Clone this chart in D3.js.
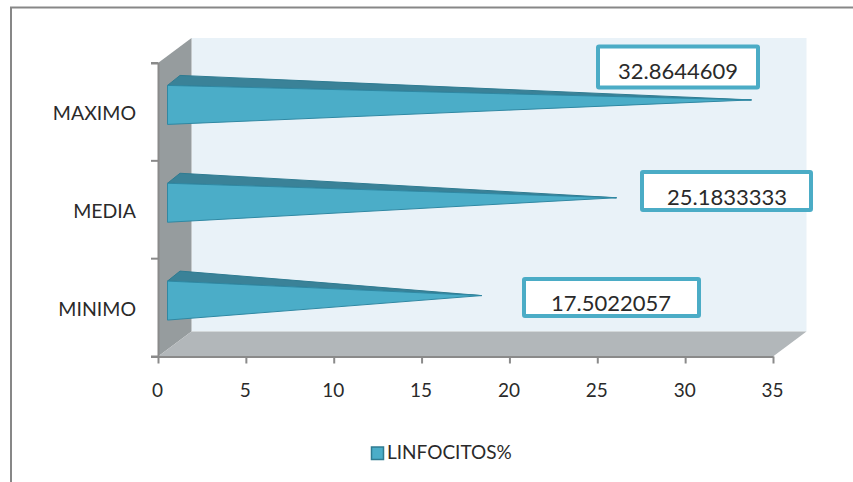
<!DOCTYPE html>
<html>
<head>
<meta charset="utf-8">
<script src="https://cdn.jsdelivr.net/npm/d3@7/dist/d3.min.js"></script>
<style>
html,body{margin:0;padding:0;background:#fff;}
svg{display:block;}
text{font-family:Lato,"Open Sans",sans-serif;fill:#2a2a2a;}
</style>
</head>
<body>
<svg id="chart" width="853" height="482"></svg>
<script>
const categories = ["MAXIMO", "MEDIA", "MINIMO"];
const values = [32.8644609, 25.1833333, 17.5022057];
const valueLabels = ["32.8644609", "25.1833333", "17.5022057"];
const xTicks = [0, 5, 10, 15, 20, 25, 30, 35];
const seriesName = "LINFOCITOS%";

const svg = d3.select("#chart");
const x = d3.scaleLinear().domain([0, 35]).range([158, 773]);
const y = d3.scaleBand().domain(categories).range([63, 356.5]);
const depthX = 33.5, depthY = -25;
const [left, right] = x.range();
const [top_, bottom] = y.range();
const poly = pts => pts.map(p => p.join(",")).join(" ");

// Outer chart frame, open on the right and bottom edges
svg.append("path")
  .attr("d", "M11,482V7.5H853")
  .attr("fill", "none").attr("stroke", "#878787").attr("stroke-width", 2);

// Walls and floor of the 3D box
svg.append("polygon")
  .attr("points", poly([[left + depthX, top_ + depthY], [right + depthX, top_ + depthY],
                        [right + depthX, bottom + depthY], [left + depthX, bottom + depthY]]))
  .attr("fill", "#e9f2f8");
svg.append("polygon")
  .attr("points", poly([[left, top_], [left + depthX, top_ + depthY],
                        [left + depthX, bottom + depthY], [left, bottom]]))
  .attr("fill", "#969c9e");
svg.append("polygon")
  .attr("points", poly([[left, bottom], [left + depthX, bottom + depthY],
                        [right + depthX, bottom + depthY], [right, bottom]]))
  .attr("fill", "#b2b7ba");

// Axes
const xAxis = svg.append("g").attr("transform", `translate(0,${bottom})`)
  .call(d3.axisBottom(x).tickValues(xTicks).tickSize(7).tickPadding(20).tickSizeOuter(0));
const yAxis = svg.append("g").attr("transform", `translate(${left},0)`)
  .call(d3.axisLeft(y).tickValues([]).tickSizeOuter(7));
svg.append("g").attr("transform", `translate(${left},0)`)
  .selectAll("line").data(d3.range(4)).join("line")
  .attr("x1", -7).attr("x2", 0)
  .attr("y1", i => top_ + i * y.step()).attr("y2", i => top_ + i * y.step())
  .attr("stroke", "#8a8a8a").attr("stroke-width", 2);
xAxis.selectAll("path,line").attr("stroke", "#8a8a8a").attr("stroke-width", 2);
yAxis.selectAll("path").attr("stroke", "#8a8a8a").attr("stroke-width", 2);
xAxis.selectAll("text").style("font-family", "Lato").style("font-size", "19px")
  .attr("fill", "#2a2a2a").attr("dx", -1);

// Category labels
svg.selectAll("text.cat").data(categories).join("text")
  .attr("class", "cat")
  .attr("x", 136).attr("y", d => y(d) + y.bandwidth() / 2 + 8)
  .attr("text-anchor", "end").attr("font-size", 19.5)
  .text(d => d);

// Pyramid bars: a front face and a top face converging on the value
const frontDx = 9.5, frontDy = -7, backDx = 22, backDy = -17, halfHeight = 19.5, tipDx = 16, tipDy = -12;
const bars = svg.append("g").selectAll("g").data(values).join("g");
bars.each(function (v, i) {
  const cy = y(categories[i]) + y.bandwidth() / 2;
  const tip = [x(v) + tipDx, cy + tipDy];
  const frontTop = [left + frontDx, cy + frontDy - halfHeight];
  const frontBottom = [left + frontDx, cy + frontDy + halfHeight];
  const backTop = [left + backDx, cy + backDy - halfHeight];
  const g = d3.select(this);
  g.append("polygon").attr("points", poly([frontTop, backTop, tip]))
    .attr("fill", "#3a8298").attr("stroke", "#2f7b91").attr("stroke-width", 1);
  g.append("polygon").attr("points", poly([frontTop, frontBottom, tip]))
    .attr("fill", "#4badc8").attr("stroke", "#2f88a3").attr("stroke-width", 1);
});

// Value callouts
const boxes = [
  { x: 598, y: 46.5, w: 160, h: 41, tx: 678, ty: 79 },
  { x: 642, y: 172, w: 169, h: 38, tx: 727, ty: 205 },
  { x: 524, y: 279, w: 175, h: 37, tx: 611, ty: 311 }
];
boxes.forEach((b, i) => {
  svg.append("rect").attr("x", b.x).attr("y", b.y).attr("width", b.w).attr("height", b.h)
    .attr("fill", "#fff").attr("stroke", "#4bacc6").attr("stroke-width", 4).attr("rx", 1);
  svg.append("text").attr("x", b.tx).attr("y", b.ty).attr("text-anchor", "middle")
    .attr("font-size", 22).text(valueLabels[i]);
});

// Legend
svg.append("rect").attr("x", 371.5).attr("y", 447).attr("width", 12).attr("height", 12.5)
  .attr("fill", "#4badc8").attr("stroke", "#2f7b91").attr("stroke-width", 1.5);
svg.append("text").attr("x", 387).attr("y", 459).attr("font-size", 19).text(seriesName);
</script>
</body>
</html>
